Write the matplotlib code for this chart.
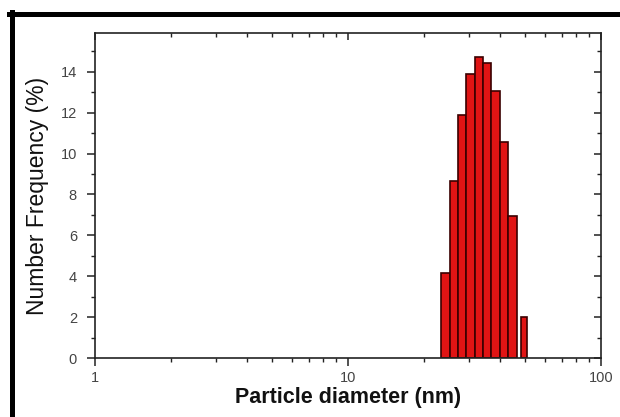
"""
    Particle size distribution (number frequency vs. diameter, log axis).
"""

# .----------------------------------------------------------------------------.
# Import libraries to use.

import matplotlib
matplotlib.use('Agg')
import matplotlib.pyplot as plt          # This provides functions for making plots
from matplotlib.ticker import MultipleLocator, NullFormatter, FixedLocator
from matplotlib.lines import Line2D
# .----------------------------------------------------------------------------.

# bin edges (nm) and number frequency (%) of every bar
bin_lo = [23.3, 25.2, 27.2, 29.3, 31.7, 34.2, 36.9, 39.8, 43.0, 48.3]
bin_hi = [25.2, 27.2, 29.3, 31.7, 34.2, 36.9, 39.8, 43.0, 46.4, 51.1]
freq = [4.14, 8.67, 11.88, 13.87, 14.73, 14.41, 13.06, 10.58, 6.94, 2.02]

x_ticks = [1, 10, 100]
x_tick_labels = ['1', '10', '100']

colors = {'bar'   : '#e01414',
          'edge'  : '#3a0000',
          'axis'  : '#222222',
          'label' : '#444444',
          'frame' : '#000000',
         }

plt.rcParams['font.family'] = ['Liberation Sans', 'DejaVu Sans']


def main():

    fig = plt.figure(figsize=(6.2, 4.17), dpi=100)
    ax = fig.add_axes([95 / 620, 1 - 358 / 417, 506 / 620, 325 / 417])

    # bars, drawn in data coords on the log axis
    widths = [hi - lo for lo, hi in zip(bin_lo, bin_hi)]
    ax.bar(bin_lo, freq, width=widths, align='edge', color=colors['bar'],
           edgecolor=colors['edge'], linewidth=1.2, zorder=2)

    ax.set_xscale('log')
    ax.set_xlim(1, 100)
    ax.set_ylim(0, 15.9)

    # ---------------------------- ticks ------------------------------------#
    ax.xaxis.set_major_locator(FixedLocator(x_ticks))
    ax.set_xticklabels(x_tick_labels)
    ax.xaxis.set_minor_formatter(NullFormatter())
    ax.yaxis.set_major_locator(MultipleLocator(2))
    ax.yaxis.set_minor_locator(MultipleLocator(1))

    ax.tick_params(which='major', direction='out', length=6, width=1.1,
                   color=colors['axis'], labelsize=10.5, labelcolor=colors['label'])
    ax.tick_params(axis='y', which='major', pad=7)
    ax.tick_params(axis='x', which='major', pad=3)
    ax.tick_params(which='minor', direction='out', length=3, width=1.0,
                   color=colors['axis'])

    # top and right: ticks pointing inward, no labels
    top = ax.secondary_xaxis('top')
    top.xaxis.set_major_locator(FixedLocator(x_ticks))
    top.xaxis.set_major_formatter(NullFormatter())
    top.xaxis.set_minor_formatter(NullFormatter())
    top.tick_params(which='major', direction='in', length=5, width=1.1, color=colors['axis'])
    top.tick_params(which='minor', direction='in', length=3, width=1.0, color=colors['axis'])
    top.spines['top'].set_visible(False)

    right = ax.secondary_yaxis('right')
    right.yaxis.set_major_locator(MultipleLocator(2))
    right.yaxis.set_minor_locator(MultipleLocator(1))
    right.yaxis.set_major_formatter(NullFormatter())
    right.tick_params(which='major', direction='in', length=5, width=1.1, color=colors['axis'])
    right.tick_params(which='minor', direction='in', length=3, width=1.0, color=colors['axis'])
    right.spines['right'].set_visible(False)

    for s in ax.spines.values():
        s.set_linewidth(1.2)
        s.set_color(colors['axis'])

    # ---------------------------- labels -----------------------------------#
    ax.set_xlabel('Particle diameter (nm)', fontsize=15.5, fontweight='bold',
                  color='#111111', labelpad=2)
    ax.set_ylabel('Number Frequency (%)', fontsize=16.5, color='#111111', labelpad=8)

    # thick black frame on top and left edge of the picture
    fig.add_artist(Line2D([9 / 620, 1], [1 - 14 / 417, 1 - 14 / 417],
                          transform=fig.transFigure, color=colors['frame'], lw=3.6))
    fig.add_artist(Line2D([11.5 / 620, 11.5 / 620], [0, 1 - 12 / 417],
                          transform=fig.transFigure, color=colors['frame'], lw=3.6))

    fig.savefig('out.png', dpi=100)

# .----------------------------------------------------------------------------.

if __name__ == '__main__':
    main()

# .----------------------------------------------------------------------------.
